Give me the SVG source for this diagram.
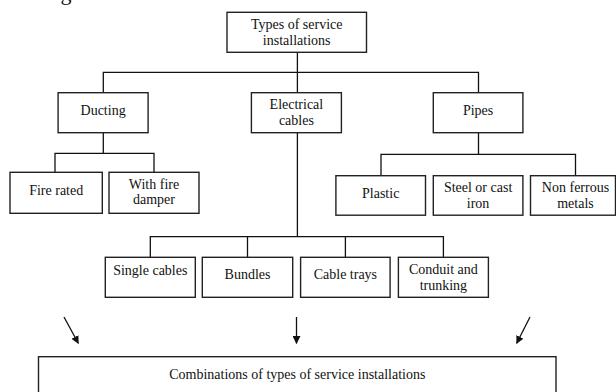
<svg xmlns="http://www.w3.org/2000/svg" width="616" height="392" viewBox="0 0 616 392">
<defs>
<style>
.box{fill:#fff;stroke:#222;stroke-width:1.4}
.ln{fill:none;stroke:#111;stroke-width:1.3}
text{font-family:"Liberation Serif","Times New Roman",serif;font-size:14px;fill:#111;text-anchor:middle}
</style>
<marker id="ah" viewBox="0 0 10 10" refX="9" refY="5" markerWidth="8" markerHeight="8" markerUnits="userSpaceOnUse" orient="auto">
<path d="M0,0 L10,5 L0,10 z" fill="#111"/>
</marker>
</defs>
<rect width="616" height="392" fill="#fff"/>
<text x="66" y="-0.5" style="font-size:22px">g</text>
<g id="connectors">
<path class="ln" d="M297.4,52.3 V92.7 M103.3,92.7 V72.3 H478.5 V92.7"/>
<path class="ln" d="M103.3,132.7 V153.3 M55,172.3 V153.3 H154 V172.3"/>
<path class="ln" d="M478.5,132.7 V154.3 M381,175.7 V154.3 H575.5 V175.7"/>
<path class="ln" d="M297.4,132.7 V236.7 M150.3,257.3 V236.7 H443.4 V257.3 M247.5,236.7 V257.3 M345.4,236.7 V257.3"/>
<line class="ln" x1="64" y1="317" x2="78.3" y2="343.3" marker-end="url(#ah)"/>
<line class="ln" x1="296.5" y1="317" x2="296.5" y2="343.3" marker-end="url(#ah)"/>
<line class="ln" x1="530" y1="317" x2="516.7" y2="343.3" marker-end="url(#ah)"/>
</g>
<g id="n-root"><rect class="box" x="227" y="12.3" width="139.5" height="40"/><text x="296.7" y="28.5">Types of service</text><text x="296.7" y="45">installations</text></g>
<g id="n-ducting"><rect class="box" x="58.1" y="92.7" width="90" height="40"/><text x="103.1" y="115">Ducting</text></g>
<g id="n-electrical"><rect class="box" x="251.4" y="92.7" width="90" height="40"/><text x="296.4" y="109">Electrical</text><text x="296.4" y="125">cables</text></g>
<g id="n-pipes"><rect class="box" x="433.3" y="92.7" width="89.6" height="40"/><text x="478.1" y="115">Pipes</text></g>
<g id="n-firerated"><rect class="box" x="10" y="172.3" width="92.3" height="41"/><text x="56.2" y="194.5">Fire rated</text></g>
<g id="n-firedamper"><rect class="box" x="109" y="172.3" width="90" height="41"/><text x="154" y="189">With fire</text><text x="154" y="204">damper</text></g>
<g id="n-plastic"><rect class="box" x="335.9" y="175.7" width="89.6" height="39.5"/><text x="380.7" y="197.5">Plastic</text></g>
<g id="n-steel"><rect class="box" x="433.3" y="175.7" width="89.6" height="39.5"/><text x="478.1" y="191.7">Steel or cast</text><text x="478.1" y="208.3">iron</text></g>
<g id="n-nonferrous"><rect class="box" x="530.5" y="175.7" width="85" height="39.5"/><text x="575.5" y="191.7">Non ferrous</text><text x="575.5" y="208.3">metals</text></g>
<g id="n-single"><rect class="box" x="105.3" y="257.3" width="90" height="40"/><text x="150.3" y="275">Single cables</text></g>
<g id="n-bundles"><rect class="box" x="202.3" y="257.3" width="90.4" height="40"/><text x="247.5" y="278.5">Bundles</text></g>
<g id="n-trays"><rect class="box" x="300.6" y="257.3" width="89.5" height="40"/><text x="345.4" y="278.5">Cable trays</text></g>
<g id="n-conduit"><rect class="box" x="398.4" y="257.3" width="90" height="40"/><text x="443.4" y="273.5">Conduit and</text><text x="443.4" y="290">trunking</text></g>
<g id="n-combinations"><rect class="box" x="38.5" y="356.7" width="517.5" height="50"/><text x="297.3" y="379.3">Combinations of types of service installations</text></g>
</svg>
